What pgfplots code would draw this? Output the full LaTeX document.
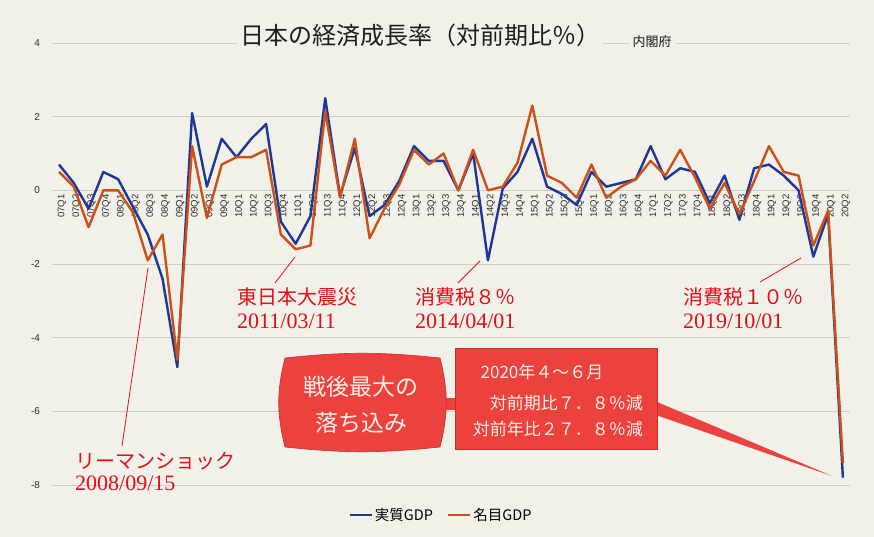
\documentclass[border=0pt]{standalone}
\usepackage{pgfplots}
\pgfplotsset{compat=1.18}
\usepackage{fontspec}
\setmainfont{Noto Sans CJK JP}
\newfontfamily\arial{Liberation Sans}
\newfontfamily\serifnum{Liberation Serif}

\definecolor{bgc}{RGB}{241,240,233}
\definecolor{gridgray}{RGB}{205,205,200}
\definecolor{ticktext}{RGB}{45,45,45}
\definecolor{titletext}{RGB}{30,30,30}
\definecolor{realblue}{RGB}{30,55,150}
\definecolor{nomorange}{RGB}{205,80,25}
\definecolor{annred}{RGB}{225,15,25}
\definecolor{boxred}{RGB}{236,66,62}
\definecolor{boxedge}{RGB}{200,45,45}
\definecolor{boxtext}{RGB}{255,238,232}

\begin{document}
\begin{tikzpicture}[x=1pt,y=1pt]
\fill[bgc] (0,0) rectangle (874,537);

\begin{axis}[
at={(51.6pt,52pt)}, anchor=south west,
scale only axis,
width=798.7pt, height=442pt,
xmin=-0.5, xmax=53.5,
ymin=-8, ymax=4,
axis x line=middle,
axis y line=left,
x axis line style={-, draw=gridgray, line width=0.8pt},
y axis line style={draw=none},
hide obscured x ticks=false,
hide obscured y ticks=false,
ytick={-8,-6,-4,-2,0,2,4},
ymajorgrids,
grid style={gridgray, line width=0.8pt},
tick style={draw=none},
xtick={0,...,53},
xticklabels={07Q1,07Q2,07Q3,07Q4,08Q1,08Q2,08Q3,08Q4,09Q1,09Q2,09Q3,09Q4,10Q1,10Q2,10Q3,10Q4,11Q1,11Q2,11Q3,11Q4,12Q1,12Q2,12Q3,12Q4,13Q1,13Q2,13Q3,13Q4,14Q1,14Q2,14Q3,14Q4,15Q1,15Q2,15Q3,15Q4,16Q1,16Q2,16Q3,16Q4,17Q1,17Q2,17Q3,17Q4,18Q1,18Q2,18Q3,18Q4,19Q1,19Q2,19Q3,19Q4,20Q1,20Q2},
xticklabel style={rotate=90, anchor=east, text=ticktext, font=\arial\fontsize{9.5}{10}\selectfont, inner sep=2pt, yshift=-3pt},
yticklabel style={text=ticktext, font=\arial\fontsize{10}{10}\selectfont, xshift=-6pt},
/pgf/number format/assume math mode=true,
legend style={at={(0.4875,-0.068)}, anchor=center, legend columns=2, draw=none, fill=none,
  font=\fontsize{14.5}{14.5}\selectfont,
  /tikz/every even column/.append style={column sep=12pt}},
legend image code/.code={\draw[#1] (0pt,0pt) -- (22pt,0pt);},
]
\addplot[realblue, line width=2.4pt, line join=round] coordinates {
(0,0.7) (1,0.2) (2,-0.5) (3,0.5) (4,0.3) (5,-0.45) (6,-1.2) (7,-2.4) (8,-4.8) (9,2.1)
(10,0.1) (11,1.4) (12,0.9) (13,1.4) (14,1.8) (15,-0.85) (16,-1.45) (17,-0.7) (18,2.5) (19,-0.15)
(20,1.15) (21,-0.7) (22,-0.4) (23,0.25) (24,1.2) (25,0.8) (26,0.8) (27,0.0) (28,1.0) (29,-1.9)
(30,0.05) (31,0.5) (32,1.4) (33,0.1) (34,-0.1) (35,-0.4) (36,0.5) (37,0.1) (38,0.2) (39,0.3)
(40,1.2) (41,0.3) (42,0.6) (43,0.5) (44,-0.35) (45,0.4) (46,-0.8) (47,0.6) (48,0.7) (49,0.4)
(50,0.0) (51,-1.8) (52,-0.65) (53,-7.8)
};
\addlegendentry{実質GDP}
\addplot[nomorange, line width=2.4pt, line join=round] coordinates {
(0,0.5) (1,0.1) (2,-1.0) (3,0.0) (4,0.0) (5,-0.6) (6,-1.9) (7,-1.2) (8,-4.6) (9,1.2)
(10,-0.75) (11,0.7) (12,0.9) (13,0.9) (14,1.1) (15,-1.2) (16,-1.6) (17,-1.5) (18,2.15) (19,-0.2)
(20,1.4) (21,-1.3) (22,-0.5) (23,0.15) (24,1.1) (25,0.7) (26,1.0) (27,0.0) (28,1.1) (29,0.0)
(30,0.1) (31,0.75) (32,2.3) (33,0.4) (34,0.2) (35,-0.2) (36,0.7) (37,-0.2) (38,0.1) (39,0.3)
(40,0.8) (41,0.4) (42,1.1) (43,0.35) (44,-0.5) (45,0.2) (46,-0.65) (47,0.25) (48,1.2) (49,0.5)
(50,0.4) (51,-1.5) (52,-0.55) (53,-7.4)
};
\addlegendentry{名目GDP}
\end{axis}

\begin{scope}[yshift=537pt, y=-1pt]
% title
\node[fill=bgc, inner xsep=3pt, inner ysep=2pt, text=titletext, font=\fontsize{24}{24}\selectfont] at (420,35) {日本の経済成長率（対前期比％）};
\node[fill=bgc, inner xsep=4pt, inner ysep=2pt, text=titletext, font=\fontsize{13}{13}\selectfont] at (652,42) {内閣府};

% event pointers
\draw[annred, line width=0.8pt] (148,268) -- (122,446);
\draw[annred, line width=0.8pt] (295,257) -- (275,283);
\draw[annred, line width=0.8pt] (480,261) -- (458,283);
\draw[annred, line width=0.8pt] (801,258) -- (760,282);

\node[anchor=west, inner sep=0pt, text=annred, font=\fontsize{20}{20}\selectfont] at (75,461) {リーマンショック};
\node[anchor=west, inner sep=0pt, text=annred, font=\serifnum\fontsize{22}{22}\selectfont] at (75,483) {2008/09/15};
\node[anchor=west, inner sep=0pt, text=annred, font=\fontsize{20}{20}\selectfont] at (237,297) {東日本大震災};
\node[anchor=west, inner sep=0pt, text=annred, font=\serifnum\fontsize{22}{22}\selectfont] at (237,321) {2011/03/11};
\node[anchor=west, inner sep=0pt, text=annred, font=\fontsize{20}{20}\selectfont] at (415,297) {消費税８％};
\node[anchor=west, inner sep=0pt, text=annred, font=\serifnum\fontsize{22}{22}\selectfont] at (415,321) {2014/04/01};
\node[anchor=west, inner sep=0pt, text=annred, font=\fontsize{20}{20}\selectfont] at (683,297) {消費税１０％};
\node[anchor=west, inner sep=0pt, text=annred, font=\serifnum\fontsize{22}{22}\selectfont] at (683,321) {2019/10/01};

% callouts
\fill[boxred] (650,399) -- (832,476) -- (650,413) -- cycle;
\fill[boxred] (438,398) rectangle (458,410);
\filldraw[fill=boxred, draw=boxedge, line width=0.6pt] (285,358) to[bend left=6] (440,358) to[bend left=14] (440,447) to[bend left=6] (285,447) to[bend left=14] cycle;
\filldraw[fill=boxred, draw=boxedge, line width=0.6pt] (455,348) rectangle (657,449);

\node[text=boxtext, font=\fontsize{23}{23}\selectfont] at (361,387) {戦後最大の};
\node[text=boxtext, font=\fontsize{23}{23}\selectfont] at (361,423) {落ち込み};
\node[text=boxtext, font=\fontsize{17}{17}\selectfont] at (542,372) {2020年４～６月};
\node[anchor=east, inner sep=0pt, text=boxtext, font=\fontsize{17}{17}\selectfont] at (643,403) {対前期比７．８％減};
\node[anchor=east, inner sep=0pt, text=boxtext, font=\fontsize{17}{17}\selectfont] at (643,429) {対前年比２７．８％減};
\end{scope}
\end{tikzpicture}
\end{document}
